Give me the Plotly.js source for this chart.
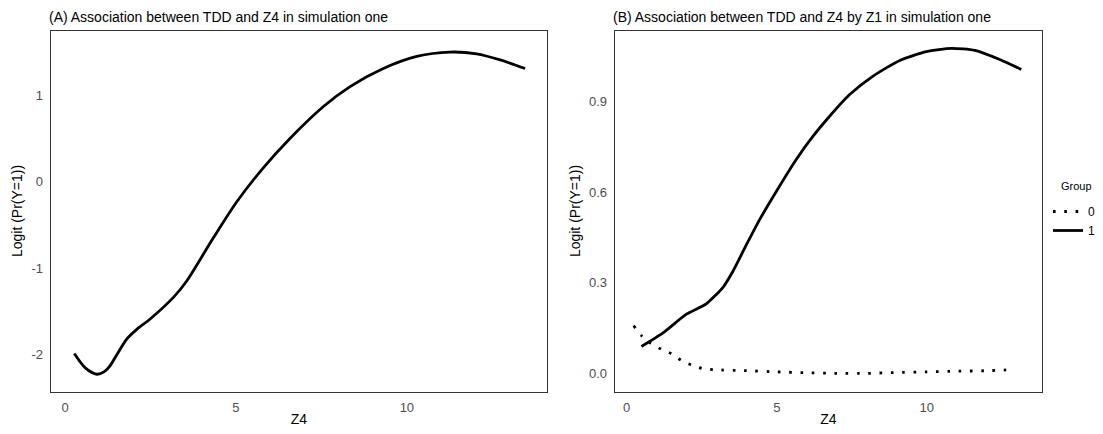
<!DOCTYPE html>
<html>
<head>
<meta charset="utf-8">
<script src="https://cdn.plot.ly/plotly-3.0.1.min.js"></script>
<style>html,body{margin:0;padding:0;background:#fff;}#chart{width:1103px;height:434px;}</style>
</head>
<body>
<div id="chart"></div>
<script>
// Panel A: overall association
const zA = [0.27, 0.60, 0.93, 1.15, 1.32, 1.55, 1.81, 2.10, 2.49, 3.17, 3.56, 4.34, 5.03, 5.80, 6.58, 7.56, 8.34, 9.31, 10.29, 11.26, 12.04, 12.73, 13.46];
const logitA = [-1.99, -2.16, -2.23, -2.20, -2.13, -1.98, -1.82, -1.71, -1.59, -1.34, -1.15, -0.65, -0.23, 0.16, 0.50, 0.87, 1.10, 1.31, 1.45, 1.50, 1.48, 1.41, 1.31];

// Panel B: by group Z1
const zB1 = [0.49, 1.21, 1.99, 2.65, 3.21, 3.54, 3.99, 4.43, 4.99, 5.65, 6.21, 6.77, 7.43, 8.21, 9.10, 9.99, 10.82, 11.60, 12.43, 13.15];
const logitB1 = [0.089, 0.134, 0.196, 0.230, 0.285, 0.338, 0.426, 0.509, 0.603, 0.708, 0.785, 0.852, 0.923, 0.984, 1.036, 1.065, 1.076, 1.069, 1.039, 1.006];
const zB0 = [0.23, 0.51, 0.79, 1.15, 1.49, 1.82, 2.19, 2.57, 2.93, 4.0, 5.0, 6.0, 7.0, 8.0, 9.0, 10.0, 11.0, 12.0, 12.84];
const logitB0 = [0.158, 0.123, 0.100, 0.080, 0.065, 0.043, 0.026, 0.015, 0.012, 0.009, 0.005, 0.002, 0.000, 0.000, 0.003, 0.005, 0.007, 0.009, 0.012];

const groupNames = ['0', '1'];
const legendTitle = 'Group';
const titleA = '(A) Association between TDD and Z4 in simulation one';
const titleB = '(B) Association between TDD and Z4 by Z1 in simulation one';
const xTitle = 'Z4';
const yTitle = 'Logit (Pr(Y=1))';
const xTicks = [0, 5, 10];
const yTicksA = [-2, -1, 0, 1];
const yTickTextA = ['-2', '-1', '0', '1'];
const yTicksB = [0, 0.3, 0.6, 0.9];

const FONT = 'Liberation Sans, Arial, sans-serif';
const W = 1103, H = 434;

const traces = [
  {x: zA, y: logitA, type: 'scatter', mode: 'lines', xaxis: 'x', yaxis: 'y',
   line: {color: '#000', width: 2.8, shape: 'spline', smoothing: 0.8}, showlegend: false, hoverinfo: 'skip'},
  {x: zB0, y: logitB0, type: 'scatter', mode: 'lines', xaxis: 'x2', yaxis: 'y2', name: groupNames[0],
   line: {color: '#000', width: 2.8, dash: '2.6px,8.7px', shape: 'spline', smoothing: 0.6}},
  {x: zB1, y: logitB1, type: 'scatter', mode: 'lines', xaxis: 'x2', yaxis: 'y2', name: groupNames[1],
   line: {color: '#000', width: 2.8, shape: 'spline', smoothing: 0.6}}
];

function ax(extra) {
  return Object.assign({
    showline: true, mirror: true, linecolor: '#333', linewidth: 1,
    showgrid: false, zeroline: false,
    ticks: 'outside', ticklen: 4, tickcolor: 'rgba(0,0,0,0)',
    tickfont: {family: FONT, size: 13, color: '#4d4d4d'}
  }, extra);
}

const yDom = [1 - 391.5 / H, 1 - 30.5 / H];
const tf = {family: FONT, size: 14, color: '#000'};

const layout = {
  width: W, height: H,
  margin: {l: 0, r: 0, t: 0, b: 0},
  paper_bgcolor: '#fff', plot_bgcolor: '#fff',
  font: {family: FONT},
  xaxis: ax({domain: [50.7 / W, 547 / W], range: [-0.42, 14.1], tickvals: xTicks,
    title: {text: xTitle, standoff: 0, font: tf}, anchor: 'y'}),
  yaxis: ax({domain: yDom, range: [-2.43, 1.75], tickvals: yTicksA, ticktext: yTickTextA,
    title: {text: yTitle, standoff: 5, font: tf}, anchor: 'x'}),
  xaxis2: ax({domain: [614.7 / W, 1042 / W], range: [-0.40, 13.84], tickvals: xTicks,
    title: {text: xTitle, standoff: 0, font: tf}, anchor: 'y2'}),
  yaxis2: ax({domain: yDom, range: [-0.060, 1.135], tickvals: yTicksB, tickformat: '.1f',
    title: {text: yTitle, standoff: 5, font: tf}, anchor: 'x2'}),
  showlegend: true,
  legend: {
    x: 1048 / W, xanchor: 'left', y: 1 - 197 / H, yanchor: 'top',
    font: {family: FONT, size: 12, color: '#000'},
    itemwidth: 30, tracegroupgap: 0, bgcolor: 'rgba(0,0,0,0)'
  },
  annotations: [
    {text: titleA, xref: 'paper', yref: 'paper', x: 47 / W, y: 1 - 17 / H, xanchor: 'left', yanchor: 'middle',
     showarrow: false, font: tf},
    {text: titleB, xref: 'paper', yref: 'paper', x: 611 / W, y: 1 - 17 / H, xanchor: 'left', yanchor: 'middle',
     showarrow: false, font: tf},
    {text: legendTitle, xref: 'paper', yref: 'paper', x: 1059 / W, y: 1 - 186 / H, xanchor: 'left', yanchor: 'middle',
     showarrow: false, font: {family: FONT, size: 11, color: '#000'}}
  ]
};

Plotly.newPlot('chart', traces, layout, {staticPlot: true, displayModeBar: false});
</script>
</body>
</html>
